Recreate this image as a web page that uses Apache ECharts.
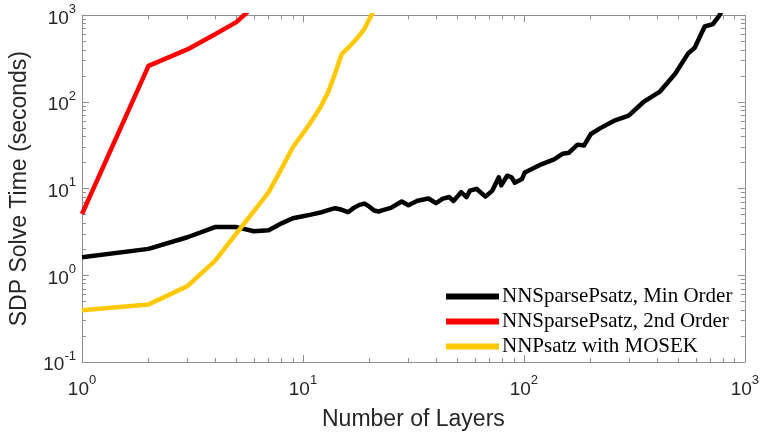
<!DOCTYPE html>
<html><head><meta charset="utf-8">
<script src="https://cdn.jsdelivr.net/npm/echarts@6/dist/echarts.min.js"></script>
<style>html,body{margin:0;padding:0;background:#fff}#c{width:762px;height:436px}</style>
</head><body><div id="c"></div>
<script>
const seriesNames = ['NNSparsePsatz, Min Order', 'NNSparsePsatz, 2nd Order', 'NNPsatz with MOSEK'];
const seriesColors = ['#000000', '#FF0000', '#FFC800'];

const minOrderX = [1,2,3,4,5,6,7,8,9,10,11,12,13,14,15,16,17,18,19,20,21,22,23,25,28,30,33,37,40,43,46,48,52,55,57,61,67,72,77,79,84,88,91,98,101,120,137,150,160,175,187,201,222,255,298,348,413,483,554,593,658,717,768,790];
const minOrderY = [1.62,2.02,2.75,3.6,3.6,3.22,3.32,3.98,4.55,4.8,5.05,5.3,5.65,5.95,5.7,5.35,6.0,6.5,6.72,6.2,5.6,5.45,5.66,6.0,7.1,6.45,7.25,7.7,6.8,7.66,8.0,7.2,9.1,8.0,9.5,9.96,8.1,9.5,13.5,10.9,14.1,13.5,11.7,12.9,15.4,19.1,21.8,25.3,26.0,32.2,31.4,42.7,49.9,60.4,69.5,100,132,210,364,422,743,791,1000,1150];

const secondOrderX = [1,2,3,4,5,6];
const secondOrderY = [5.1,261,404,605,835,1280];

const mosekX = [1,2,3,4,5,6,7,8,9,10,11,12,13,14,15,16,17,18,19,20,21];
const mosekY = [0.396,0.46,0.75,1.47,3.05,5.5,9.1,17,30,43.5,61.6,87,129,216,360,421,495,583,705,907,1150];

const xRange = [1, 1000];
const yRange = [0.1, 1000];

const axisColor = '#8f8f8f';
const textColor = '#262626';
const sansFont = 'Liberation Sans, Arial, Helvetica, sans-serif';

function minorLogs(lo, hi) {
  const out = [];
  for (let d = lo; d < hi; d++) for (let k = 2; k <= 9; k++) out.push(d + Math.log10(k));
  return out;
}
const minorX = minorLogs(Math.log10(xRange[0]), Math.log10(xRange[1]));
const minorY = minorLogs(Math.log10(yRange[0]), Math.log10(yRange[1]));

const powLabel = {
  formatter: function (v) { const e = Math.round(Math.log10(v)); return '{b|10}{s|' + e + '}'; },
  rich: {
    b: { fontSize: 19, fontFamily: sansFont, color: textColor, verticalAlign: 'bottom', lineHeight: 25 },
    s: { fontSize: 13, fontFamily: sansFont, color: textColor, verticalAlign: 'top', lineHeight: 25 }
  }
};

function majorAxis(pos, range, extra) {
  return Object.assign({
    type: 'log', logBase: 10, position: pos, min: range[0], max: range[1],
    axisLine: { show: true, onZero: false, lineStyle: { color: axisColor, width: 1 } },
    axisTick: { show: true, inside: true, length: 7, lineStyle: { color: axisColor, width: 1 } },
    axisLabel: { show: false },
    splitLine: { show: false }, minorTick: { show: false }
  }, extra || {});
}
function minorAxis(pos, range, vals) {
  return {
    type: 'value', position: pos, min: Math.log10(range[0]), max: Math.log10(range[1]),
    axisLine: { show: false, onZero: false },
    axisTick: { show: true, inside: true, length: 4, customValues: vals, lineStyle: { color: axisColor, width: 1 } },
    axisLabel: { show: false }, splitLine: { show: false }
  };
}

const chart = echarts.init(document.getElementById('c'), null, { renderer: 'canvas' });
chart.setOption({
  animation: false,
  backgroundColor: '#ffffff',
  grid: { left: 76.3, right: 16.3, top: 15.3, bottom: 68.3, containLabel: false },
  xAxis: [
    majorAxis('bottom', xRange, {
      axisLabel: Object.assign({ show: true, margin: 12 }, powLabel),
      name: 'Number of Layers', nameLocation: 'middle', nameGap: 46,
      nameTextStyle: { fontSize: 23, fontFamily: sansFont, color: textColor }
    }),
    majorAxis('top', xRange),
    minorAxis('bottom', xRange, minorX),
    minorAxis('top', xRange, minorX)
  ],
  yAxis: [
    majorAxis('left', yRange, {
      axisLabel: Object.assign({ show: true, margin: 6 }, powLabel),
      name: 'SDP Solve Time (seconds)', nameLocation: 'middle', nameGap: 51,
      nameTextStyle: { fontSize: 23, fontFamily: sansFont, color: textColor }
    }),
    majorAxis('right', yRange),
    minorAxis('left', yRange, minorY),
    minorAxis('right', yRange, minorY)
  ],
  legend: {
    orient: 'vertical', left: 443, top: 286, padding: 0,
    itemWidth: 53, itemHeight: 14, itemGap: 4,
    lineStyle: { width: 6 },
    itemStyle: { opacity: 0 },
    selectedMode: false,
    textStyle: { fontFamily: 'Liberation Serif, Times New Roman, serif', fontSize: 21, color: '#000', padding: [0, 0, 0, -2] },
    data: seriesNames
  },
  series: [
    { name: seriesNames[0], xs: minOrderX, ys: minOrderY },
    { name: seriesNames[1], xs: secondOrderX, ys: secondOrderY },
    { name: seriesNames[2], xs: mosekX, ys: mosekY }
  ].map(function (s, i) {
    return {
      name: s.name, type: 'line', xAxisIndex: 0, yAxisIndex: 0,
      data: s.xs.map(function (x, j) { return [x, s.ys[j]]; }),
      symbol: 'none', showSymbol: false, clip: true,
      color: seriesColors[i],
      lineStyle: { color: seriesColors[i], width: 4.5, join: 'round', cap: 'butt' },
      itemStyle: { color: seriesColors[i] },
      z: 2 + i
    };
  })
});
</script></body></html>
